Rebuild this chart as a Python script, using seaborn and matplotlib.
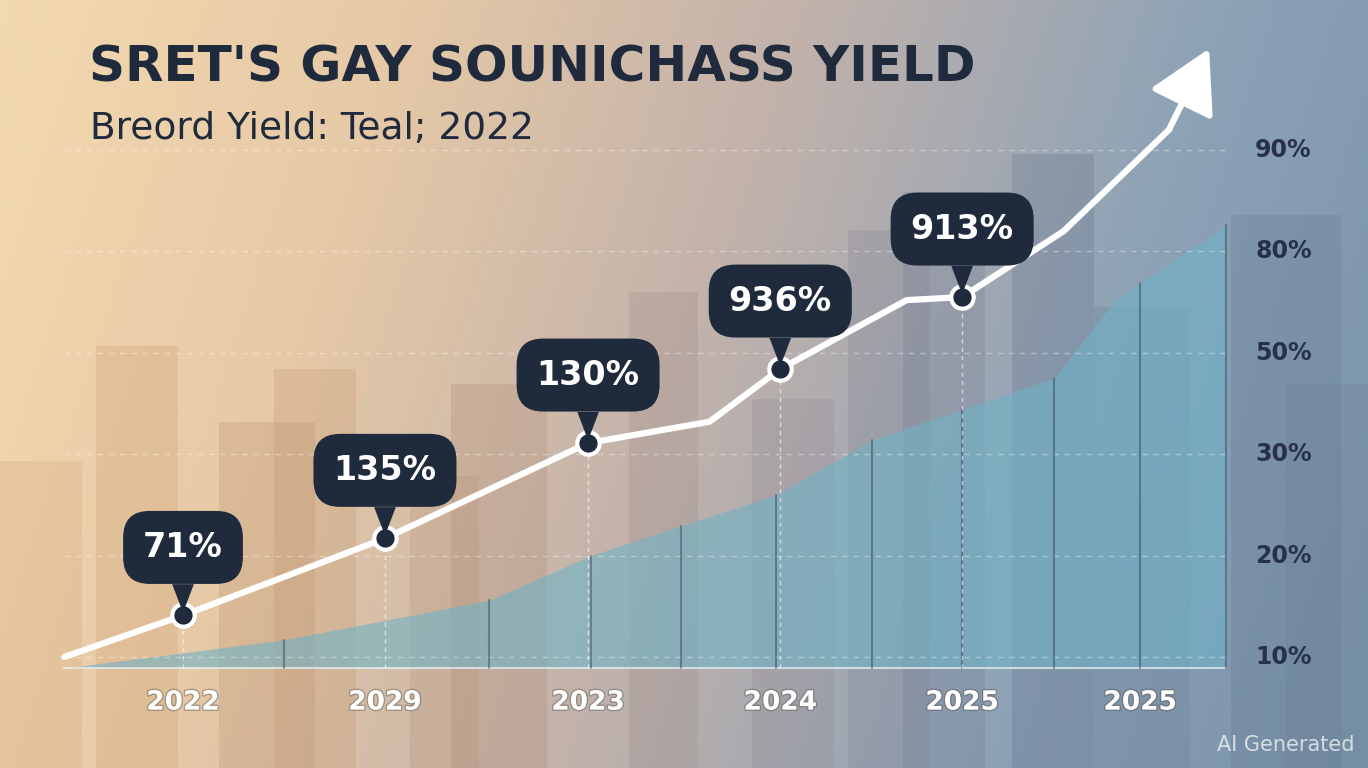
import numpy as np
import matplotlib.pyplot as plt
import matplotlib.patheffects as pe
from matplotlib.colors import LinearSegmentedColormap
import seaborn as sns

# category positions and labels along the x axis
x_labels = ['2022', '2029', '2023', '2024', '2025', '2025']
x_pos = [0, 1.055, 2.116, 3.12, 4.07, 5.0]
# right axis tick labels (shown evenly spaced)
y_labels = ['10%', '20%', '30%', '50%', '80%', '90%']

# white line: marked points and callout labels
point_x = [0, 1.055, 2.116, 3.12, 4.07]
point_y = [0.41, 1.17, 2.11, 2.84, 3.55]
point_text = ['71%', '135%', '130%', '936%', '913%']
line_x = [-0.62, 0, 1.055, 2.116, 2.75, 3.12, 3.78, 4.07, 4.6, 5.15]
line_y = [0.0, 0.41, 1.17, 2.11, 2.32, 2.84, 3.52, 3.55, 4.2, 5.2]

# teal area profile
area_x = [-0.62, 0.53, 1.6, 2.13, 3.1, 3.6, 4.55, 4.87, 5.45]
area_y = [-0.11, 0.17, 0.56, 1.0, 1.6, 2.14, 2.75, 3.52, 4.26]

sns.set_theme(style='white')
fig = plt.figure(figsize=(13.68, 7.68), dpi=100)

# background gradient + blurred skyline
bg = fig.add_axes([0, 0, 1, 1])
bg.set_axis_off()
cmap = LinearSegmentedColormap.from_list('bg', ['#f3d9b0', '#e6c9a6', '#c2b2ab', '#8fa3b6', '#7892ab'])
gx = np.linspace(0, 1, 400)
gy = np.linspace(0, 1, 200)
G = gx[None, :] * 0.85 + (1 - gy[:, None]) * 0.15
bg.imshow(G, cmap=cmap, extent=[0, 1, 0, 1], aspect='auto', origin='lower')
buildings = [(0.07, 0.06, 0.55, '#c99a6b'), (0.16, 0.07, 0.45, '#b88c6a'), (0.2, 0.06, 0.52, '#c0946c'),
             (0.3, 0.05, 0.38, '#b89275'), (0.33, 0.07, 0.5, '#a88670'), (0.46, 0.05, 0.62, '#9b8a85'),
             (0.55, 0.06, 0.48, '#8f8791'), (0.62, 0.06, 0.7, '#7f8193'), (0.66, 0.06, 0.75, '#6f7891'),
             (0.74, 0.06, 0.8, '#5f6d88'), (0.8, 0.07, 0.6, '#6b7c95'), (0.9, 0.08, 0.72, '#60778f'),
             (0.0, 0.06, 0.4, '#d5a676'), (0.94, 0.06, 0.5, '#6d8097')]
for bx, bw, bh, bc in buildings:
    bg.add_patch(plt.Rectangle((bx, 0), bw, bh, color=bc, alpha=0.25, lw=0))
bg.set_xlim(0, 1)
bg.set_ylim(0, 1)

ax = fig.add_axes([0, 0, 1, 1])
ax.set_facecolor('none')
ax.set_xlim(-0.956, 6.19)
ax.set_ylim(-1.095, 6.48)
ax.set_axis_off()

# horizontal dashed grid + axis line
for i in range(len(y_labels)):
    ax.plot([-0.62, 5.45], [i, i], ls=(0, (4, 4)), color='white', alpha=0.35, lw=1)
    ax.text(5.6, i, y_labels[i], fontsize=17, fontweight='bold', color='#27324a', va='center')
ax.plot([-0.62, 5.45], [-0.11, -0.11], color='white', alpha=0.6, lw=1.5)

# teal area with vertical dividers
area_x_a = np.array(area_x)
ax.fill_between(area_x, -0.11, area_y, color='#6fb3c6', alpha=0.6, lw=0)
for xv in [0.53, 1.6, 2.13, 2.6, 3.1, 3.6, 4.07, 4.55, 5.0, 5.45]:
    top = np.interp(xv, area_x_a, area_y)
    ax.plot([xv, xv], [-0.11, top], color='#3a4860', alpha=0.5, lw=1.5)

# vertical dashed drops from points
for px, py in zip(point_x, point_y):
    ax.plot([px, px], [-0.11, py], ls=(0, (3, 3)), color='white', alpha=0.6, lw=1)

# line and arrow
ax.plot(line_x, line_y, color='white', lw=4.5, solid_capstyle='round')
ax.annotate('', xy=(5.36, 6.0), xytext=(line_x[-1], line_y[-1]),
            arrowprops=dict(arrowstyle='-|>,head_length=3.2,head_width=1.8', color='white', lw=4.5,
                            shrinkA=0, shrinkB=0))

ax.scatter(point_x, point_y, s=260, color='#1f2a3c', edgecolor='white', linewidth=3, zorder=5)

# callouts
for px, py, t in zip(point_x, point_y, point_text):
    ax.annotate(t, xy=(px, py), xytext=(0, 68), textcoords='offset pixels', ha='center', va='center',
                fontsize=24, fontweight='bold', color='white', zorder=6,
                bbox=dict(boxstyle='round,pad=0.6,rounding_size=0.8', fc='#1f2a3c', ec='none'))
    ax.annotate('', xy=(px, py), xytext=(0, 34), textcoords='offset pixels', zorder=5,
                arrowprops=dict(arrowstyle='wedge,tail_width=1.3', color='#1f2a3c', lw=0))

for xp, xl in zip(x_pos, x_labels):
    ax.text(xp, -0.45, xl, fontsize=19, fontweight='bold', color='white', ha='center', va='center',
            path_effects=[pe.withStroke(linewidth=2, foreground='#55504a', alpha=0.4)])

fig.text(0.065, 0.912, "SRET'S GAY SOUNICHASS YIELD", fontsize=36, fontweight='heavy', color='#1f2a3c',
         va='center', fontstretch='expanded')
fig.text(0.066, 0.832, 'Breord Yield: Teal; 2022', fontsize=27, color='#1f2a3c', va='center')
fig.text(0.99, 0.03, 'AI Generated', fontsize=15, color='white', alpha=0.7, ha='right', va='center')

fig.savefig('out.png', dpi=100)
